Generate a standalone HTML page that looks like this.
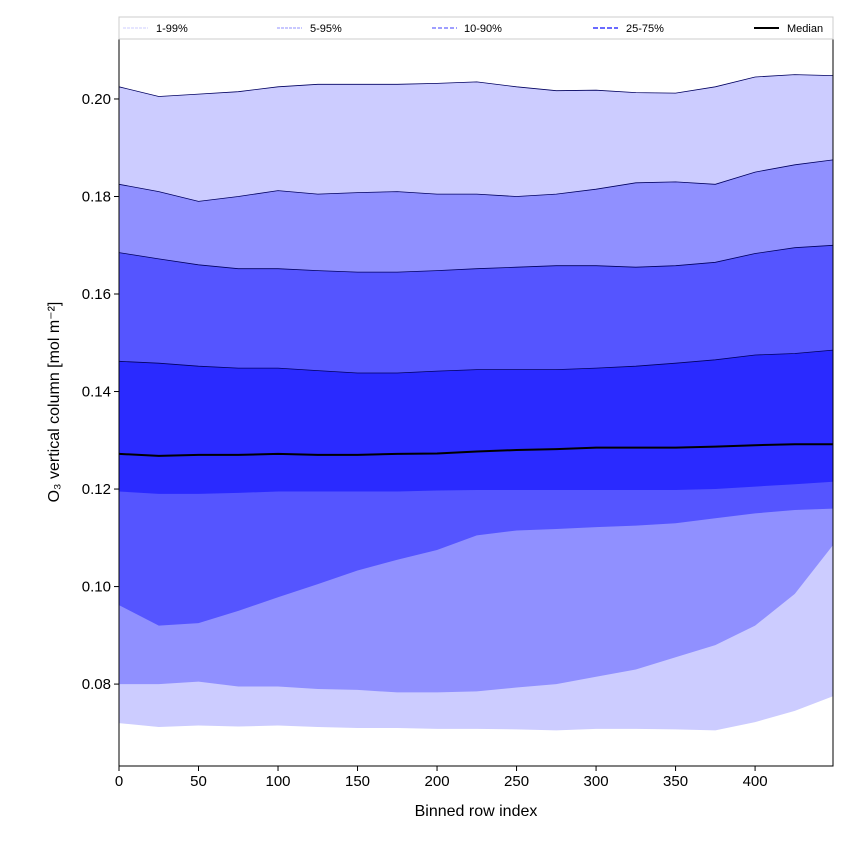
<!DOCTYPE html>
<html><head><meta charset="utf-8"><style>
body{margin:0;background:#fff;}
svg{display:block;font-family:"Liberation Sans",sans-serif;}
</style></head><body>
<svg id="chart" width="850" height="850">
<g id="bands"></g>
<g id="axes"></g>
<g id="legend">
<rect x="119" y="17" width="714" height="22" fill="#fff" stroke="#ccc"/>
<line x1="123" y1="28" x2="148" y2="28" stroke="#ccccff" stroke-dasharray="3,1"/>
<text x="156" y="32" font-size="11">1-99%</text>
<line x1="277" y1="28" x2="302" y2="28" stroke="#9090ff" stroke-dasharray="3,1"/>
<text x="310" y="32" font-size="11">5-95%</text>
<line x1="432" y1="28" x2="457" y2="28" stroke="#6666ff" stroke-width="1.3" stroke-dasharray="4,2"/>
<text x="464" y="32" font-size="11">10-90%</text>
<line x1="593" y1="28" x2="618" y2="28" stroke="#5555ff" stroke-width="1.8" stroke-dasharray="5,2"/>
<text x="626" y="32" font-size="11">25-75%</text>
<line x1="754" y1="28" x2="779" y2="28" stroke="#000" stroke-width="2"/>
<text x="787" y="32" font-size="11">Median</text>
</g>
</svg>
<script>
const xs = [0,25,50,75,100,125,150,175,200,225,250,275,300,325,350,375,400,425,449];
const p99 = [.2025,.2005,.2010,.2015,.2025,.2030,.2030,.2030,.2032,.2035,.2025,.2017,.2018,.2013,.2012,.2025,.2045,.2050,.2048];
const p95 = [.1825,.1810,.1790,.1800,.1812,.1805,.1808,.1810,.1805,.1805,.1800,.1805,.1815,.1828,.1830,.1825,.1850,.1865,.1875];
const p90 = [.1685,.1672,.1660,.1652,.1652,.1648,.1645,.1645,.1648,.1652,.1655,.1658,.1658,.1655,.1658,.1665,.1683,.1695,.1700];
const p75 = [.1462,.1458,.1452,.1448,.1448,.1443,.1438,.1438,.1442,.1445,.1445,.1445,.1448,.1452,.1458,.1465,.1475,.1478,.1485];
const med = [.1272,.1268,.1270,.1270,.1272,.1270,.1270,.1272,.1273,.1277,.1280,.1282,.1285,.1285,.1285,.1287,.1290,.1292,.1292];
const p25 = [.1195,.1190,.1190,.1192,.1195,.1195,.1195,.1195,.1197,.1198,.1198,.1198,.1198,.1198,.1198,.1200,.1205,.1210,.1215];
const p10 = [.0962,.0920,.0925,.0950,.0978,.1005,.1033,.1055,.1075,.1105,.1115,.1118,.1122,.1125,.1130,.1140,.1150,.1157,.1160];
const p5 = [.0800,.0800,.0805,.0795,.0795,.0790,.0788,.0783,.0783,.0785,.0793,.0800,.0815,.0830,.0855,.0880,.0920,.0985,.1085];
const p1 = [.0720,.0712,.0715,.0713,.0715,.0712,.0710,.0710,.0708,.0708,.0707,.0705,.0708,.0708,.0707,.0705,.0722,.0745,.0775];
const xTicks = [0,50,100,150,200,250,300,350,400];
const yTicks = [0.08,0.10,0.12,0.14,0.16,0.18,0.20];

const L=119,R=833,T=39,B=766, xMax=449, yMin=0.0632, yMax=0.2123;
const sx=v=>L+(v/xMax)*(R-L);
const sy=v=>B-(v-yMin)/(yMax-yMin)*(B-T);
const NS="http://www.w3.org/2000/svg";
function mk(tag,attrs,parent){const e=document.createElementNS(NS,tag);for(const k in attrs)e.setAttribute(k,attrs[k]);parent.appendChild(e);return e;}
const line=a=>a.map((v,i)=>(i?'L':'M')+sx(xs[i]).toFixed(1)+','+sy(v).toFixed(1)).join('');
function band(lo,hi){let d=line(hi);for(let i=lo.length-1;i>=0;i--)d+='L'+sx(xs[i]).toFixed(1)+','+sy(lo[i]).toFixed(1);return d+'Z';}
const bands=document.getElementById('bands');
const defs=[[p1,p99,'#ccccff','band-1-99'],[p5,p95,'#9090ff','band-5-95'],[p10,p90,'#5555ff','band-10-90'],[p25,p75,'#2a2aff','band-25-75']];
defs.forEach(([lo,hi,c,n])=>{
 const p=mk('path',{d:band(lo,hi),fill:c},bands);
 
 
 const e=mk('path',{d:line(hi),fill:'none',stroke:'#000060','stroke-width':0.8},bands);
 
 
});
const m=mk('path',{d:line(med),fill:'none',stroke:'#000','stroke-width':2},bands);



const ax=document.getElementById('axes');
const fr=mk('rect',{x:L,y:T,width:R-L,height:B-T,fill:'none',stroke:'#000','stroke-width':1},ax);


xTicks.forEach(t=>{
 const x=sx(t);
 const tk=mk('line',{x1:x,y1:B,x2:x,y2:B+5,stroke:'#000'},ax);
 
 
 const tx=mk('text',{x:x,y:B+20,'font-size':15,'text-anchor':'middle'},ax);
 tx.textContent=t;
 
 
});
yTicks.forEach(t=>{
 const y=sy(t);
 const tk=mk('line',{x1:L-5,y1:y,x2:L,y2:y,stroke:'#000'},ax);
 
 
 const tx=mk('text',{x:L-8,y:y+5,'font-size':15,'text-anchor':'end'},ax);
 tx.textContent=t.toFixed(2);
 
 
});
const xt=mk('text',{x:(L+R)/2,y:816,'font-size':16,'text-anchor':'middle'},ax);
xt.textContent='Binned row index';


const yt=mk('text',{x:0,y:0,'font-size':16,'text-anchor':'middle',transform:'translate(59,402) rotate(-90)'},ax);
yt.textContent='O₃ vertical column [mol m⁻²]';


</script>
</body></html>
